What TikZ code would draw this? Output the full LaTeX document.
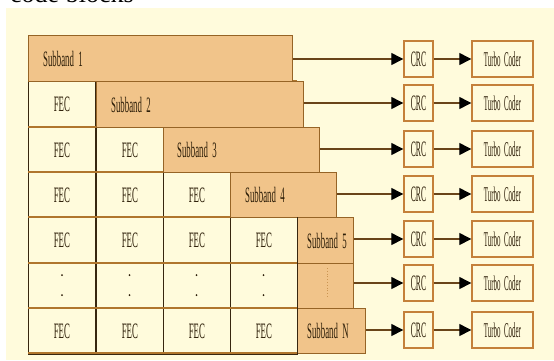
\documentclass[tikz,border=0pt]{standalone}
\usepackage{graphicx}
\usepackage{fontspec}
\setmainfont{Liberation Serif}
\usetikzlibrary{arrows.meta}
\definecolor{bg}{RGB}{255,251,220}
\definecolor{barc}{RGB}{241,196,138}
\definecolor{hlinec}{RGB}{176,118,45}
\definecolor{vlinec}{RGB}{55,38,15}
\definecolor{boxc}{RGB}{196,128,58}
\definecolor{txtc}{RGB}{45,30,8}
\definecolor{arrc}{RGB}{105,68,25}
\newcommand{\cnd}[3]{\scalebox{#2}[1]{\fontsize{#1}{#1}\selectfont #3}}
\tikzset{
  fec/.style={draw=vlinec, line width=0.8pt, fill=bg, minimum width=67pt, minimum height=45.5pt, inner sep=0pt, anchor=north west, text=txtc},
  barbox/.style={draw=hlinec!85!black, line width=1.2pt, fill=barc, inner sep=0pt, anchor=north west},
  sblabel/.style={anchor=west, text=txtc, inner sep=0pt},
  crcbox/.style={draw=boxc, line width=1.4pt, fill=bg, minimum width=29pt, minimum height=36pt, inner sep=0pt, text=txtc},
  tcbox/.style={draw=boxc, line width=1.4pt, fill=bg, minimum width=61pt, minimum height=36pt, inner sep=0pt, text=txtc},
  conn/.style={draw=arrc, line width=1.3pt, -{Triangle[length=12pt,width=12pt,color=black]}},
  rowline/.style={draw=hlinec, line width=2.4pt},
  dotmark/.style={fill=txtc}
}
\newcommand{\fectext}{\cnd{22}{0.4}{FEC}}
\newcommand{\sbtext}[1]{\cnd{22}{0.4}{Subband\ \ #1}}
\begin{document}
\begin{tikzpicture}[x=1pt,y=-1pt]
\useasboundingbox (0,0) rectangle (554,360);
\clip (0,0) rectangle (554,360);
\fill[white] (0,0) rectangle (554,360);
\fill[bg] (6,8) rectangle (554,360);
\node[anchor=base west, inner sep=0pt, font=\fontsize{26}{26}\selectfont] (title) at (10,2) {code blocks};

% FEC cells
\node[fec] (f21) at (28,81) {\fectext};
\node[fec] (f31) at (28,127) {\fectext};
\node[fec] (f32) at (96,127) {\fectext};
\node[fec] (f41) at (28,172) {\fectext};
\node[fec] (f42) at (96,172) {\fectext};
\node[fec] (f43) at (163,172) {\fectext};
\node[fec] (f51) at (28,217) {\fectext};
\node[fec] (f52) at (96,217) {\fectext};
\node[fec] (f53) at (163,217) {\fectext};
\node[fec] (f54) at (230,217) {\fectext};
\node[fec] (f61) at (28,263) {};
\node[fec] (f62) at (96,263) {};
\node[fec] (f63) at (163,263) {};
\node[fec] (f64) at (230,263) {};
\node[fec] (f71) at (28,308) {\fectext};
\node[fec] (f72) at (96,308) {\fectext};
\node[fec] (f73) at (163,308) {\fectext};
\node[fec] (f74) at (230,308) {\fectext};

% row separators
\foreach \yy in {81,127,172,217,263,308,353}
  \draw[rowline] (28,\yy) -- (297,\yy);

% vertical dots in the elision row
\foreach \xx in {62,129.5,196.5,263.5} {
  \fill[dotmark] (\xx,275) circle (1.0);
  \fill[dotmark] (\xx,295) circle (1.0);
}

% subband bars
\node[barbox, minimum width=264pt, minimum height=46pt] (b1) at (28,35) {};
\node[barbox, minimum width=207pt, minimum height=46pt] (b2) at (96,81) {};
\node[barbox, minimum width=156pt, minimum height=45pt] (b3) at (163,127) {};
\node[barbox, minimum width=106pt, minimum height=45pt] (b4) at (230,172) {};
\node[barbox, minimum width=56pt, minimum height=46pt] (b5) at (297,217) {};
\node[barbox, minimum width=56pt, minimum height=45pt] (b6) at (297,263) {};
\node[barbox, minimum width=68pt, minimum height=45pt] (b7) at (297,308) {};
\draw[vlinec, line width=0.8pt] (b5.north west) -- (b7.south west);
\draw[hlinec!60!barc, line width=0.8pt, dotted] (327,268) -- (327,298);

\node[sblabel] (s1) at ([xshift=15pt]b1.west) {\sbtext{1}};
\node[sblabel] (s2) at ([xshift=15pt]b2.west) {\sbtext{2}};
\node[sblabel] (s3) at ([xshift=14pt]b3.west) {\sbtext{3}};
\node[sblabel] (s4) at ([xshift=15pt]b4.west) {\sbtext{4}};
\node[sblabel] (s5) at ([xshift=10pt]b5.west) {\sbtext{5}};
\node[sblabel] (s7) at ([xshift=10pt]b7.west) {\sbtext{N}};

% CRC and Turbo coder boxes
\foreach \i/\yy in {1/59,2/103,3/149,4/194,5/239,6/283,7/330} {
  \node[crcbox] (c\i) at (418.5,\yy) {\cnd{22}{0.35}{CRC}};
  \node[tcbox] (t\i) at (502.5,\yy) {\cnd{21}{0.33}{Turbo\ \ Coder}};
}

% connectors
\foreach \i in {1,...,7} {
  \draw[conn] (b\i.east |- c\i.west) -- (c\i.west);
  \draw[conn] (c\i.east) -- (t\i.west);
}
\end{tikzpicture}
\end{document}
